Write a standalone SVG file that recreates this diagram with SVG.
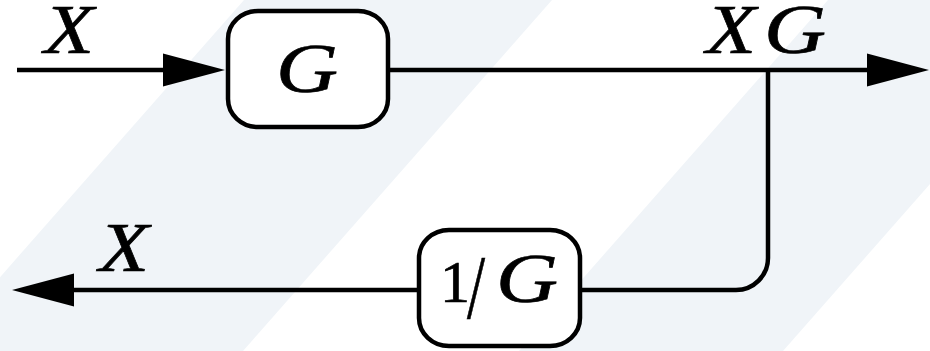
<svg xmlns="http://www.w3.org/2000/svg" width="930" height="351" viewBox="0 0 930 351">
  <style>
    .band { fill: #f0f4f8; }
    .box { fill: #ffffff; stroke: #000000; stroke-width: 4.5; }
    .wire { fill: none; stroke: #000000; stroke-width: 4.5; }
    text { font-family: "Liberation Serif", "Times New Roman", serif; fill: #000000; stroke: #000000; stroke-width: 0.7; }
    .sym { font-style: italic; font-size: 70px; }
    .num { font-style: normal; font-size: 60px; }
    .slash { font-style: normal; font-size: 90px; }
  </style>
  <defs>
    <marker id="head" markerUnits="userSpaceOnUse" markerWidth="64" markerHeight="36" viewBox="0 -18 64 36" refX="0" refY="0" orient="auto">
      <path d="M0,-16.5 L62,0 L0,16.5 Z" fill="#000000"/>
    </marker>
  </defs>

  <rect width="930" height="351" fill="#ffffff"/>
  <!-- diagonal background bands -->
  <polygon class="band" points="244,0 552,0 243,351 -65,351"/>
  <polygon class="band" points="828,0 1092,0 783,351 519,351"/>

  <g id="connectors">
    <path class="wire" d="M17,70 H163" marker-end="url(#head)"/>
    <path class="wire" d="M389,70 H867" marker-end="url(#head)"/>
    <path class="wire" d="M768,70 V258 A32,32 0 0 1 736,290 H582"/>
    <path class="wire" d="M419,290 H74" marker-end="url(#head)"/>
  </g>

  <g id="node-g">
    <rect class="box" x="228" y="11" width="160" height="116" rx="30" ry="28"/>
    <text class="sym" x="276" y="92" textLength="62" lengthAdjust="spacingAndGlyphs">G</text>
  </g>

  <g id="node-inv-g">
    <rect class="box" x="419" y="230" width="161" height="116" rx="30" ry="28"/>
    <text class="num" x="440" y="302">1</text>
    <text class="slash" x="467" y="318" textLength="18" lengthAdjust="spacingAndGlyphs">/</text>
    <text class="sym" x="496" y="302" textLength="62" lengthAdjust="spacingAndGlyphs">G</text>
  </g>

  <g id="labels">
    <text class="sym" x="44" y="53" textLength="50" lengthAdjust="spacingAndGlyphs">X</text>
    <text class="sym" y="53"><tspan x="706" textLength="50" lengthAdjust="spacingAndGlyphs">X</tspan><tspan x="764" textLength="62" lengthAdjust="spacingAndGlyphs">G</tspan></text>
    <text class="sym" x="99" y="271" textLength="50" lengthAdjust="spacingAndGlyphs">X</text>
  </g>
</svg>
